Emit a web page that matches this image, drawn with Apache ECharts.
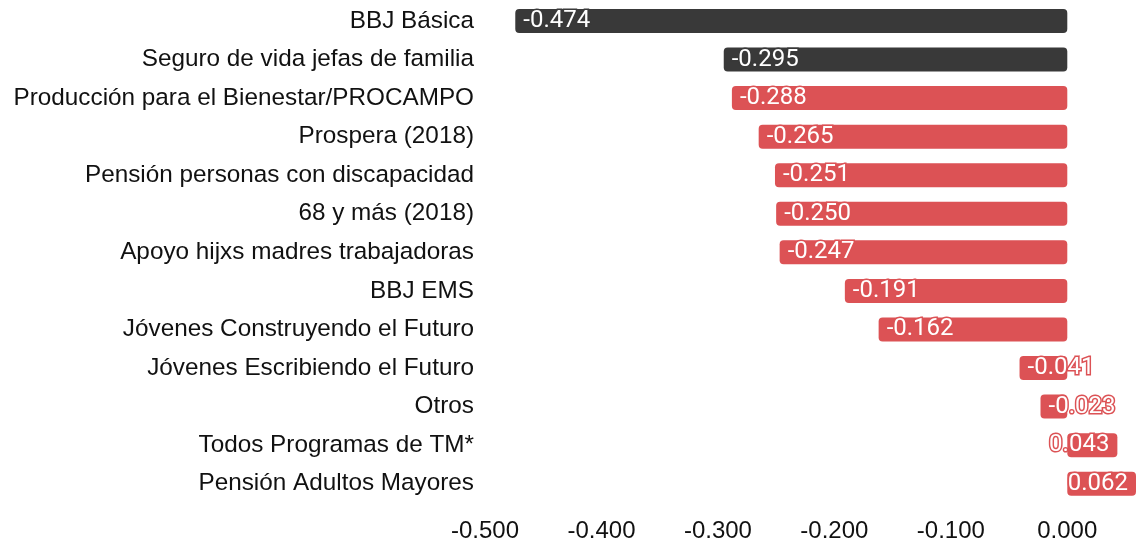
<!DOCTYPE html>
<html>
<head>
<meta charset="utf-8">
<script src="https://cdn.jsdelivr.net/npm/echarts@6/dist/echarts.min.js"></script>
<style>html,body{margin:0;padding:0;background:#fff}#c{width:1136px;height:543px}</style>
</head>
<body>
<div id="c"></div>
<script>
const categories = [
  'BBJ Básica',
  'Seguro de vida jefas de familia',
  'Producción para el Bienestar/PROCAMPO',
  'Prospera (2018)',
  'Pensión personas con discapacidad',
  '68 y más (2018)',
  'Apoyo hijxs madres trabajadoras',
  'BBJ EMS',
  'Jóvenes Construyendo el Futuro',
  'Jóvenes Escribiendo el Futuro',
  'Otros',
  'Todos Programas de TM*',
  'Pensión Adultos Mayores'
];
const values = [-0.474, -0.295, -0.288, -0.265, -0.251, -0.250, -0.247, -0.191, -0.162, -0.041, -0.023, 0.043, 0.062];
const highlighted = [true, true, false, false, false, false, false, false, false, false, false, false, false];
const xTicks = { min: -0.5, max: 0.059, interval: 0.1 };

const DARK = '#393939';
const RED = '#dc5255';

const data = values.map((v, i) => {
  const col = highlighted[i] ? DARK : RED;
  return {
    value: v,
    itemStyle: { color: col, borderRadius: 4 },
    label: {
      position: v < 0 ? 'insideLeft' : 'insideRight',
      textBorderColor: col
    }
  };
});

const chart = echarts.init(document.getElementById('c'));
chart.setOption({
  animation: false,
  grid: { left: 485, right: 0, top: 1.7, bottom: 38.7, containLabel: false },
  xAxis: {
    type: 'value',
    min: xTicks.min, max: xTicks.max, interval: xTicks.interval,
    axisLine: { show: false }, axisTick: { show: false }, splitLine: { show: false },
    axisLabel: {
      showMaxLabel: false,
      formatter: v => v.toFixed(3),
      color: '#111', fontSize: 24, fontFamily: 'Liberation Sans', margin: 16
    }
  },
  yAxis: {
    type: 'category', inverse: true, data: categories,
    axisLine: { show: false }, axisTick: { show: false },
    axisLabel: { color: '#111', fontSize: 24.3, fontFamily: 'Liberation Sans', margin: 11 }
  },
  series: [{
    type: 'bar', data: data, barWidth: 24,
    label: {
      show: true, distance: 8,
      formatter: p => p.value.toFixed(3),
      color: '#fff', fontSize: 24, fontWeight: 'normal', fontFamily: 'Roboto',
      textBorderWidth: 3
    }
  }]
});
</script>
</body>
</html>
